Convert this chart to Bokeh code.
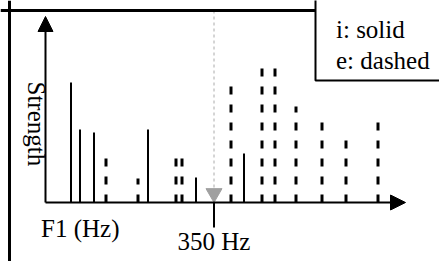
import math
from bokeh.plotting import figure
from bokeh.models import Span, BoxAnnotation, Arrow, NormalHead, Label, Range1d
from bokeh.embed import file_html
from bokeh.resources import INLINE

# ---- data ----
i_freq = [207, 216, 230, 284, 332, 380]          # solid lines (Hz)
i_strength = [120, 73, 70, 73, 25, 49]
e_freq = [242, 274, 312, 318, 367, 398, 411, 432, 458, 482, 514]   # dashed lines (Hz)
e_strength = [48, 24, 48, 48, 120, 141, 141, 96, 89, 67, 85]
marker_hz = 350
marker_label = "350 Hz"
x_label = "F1 (Hz)"
y_label = "Strength"
legend_labels = ["i: solid", "e: dashed"]

FONT = "Liberation Serif"
FS = "25px"
TXT_DY = 7   # compensation for baseline placement

W, H = 439, 261
X0, YTOP = 136.5, 202
p = figure(width=W, height=H, output_backend="svg", toolbar_location=None,
           x_range=Range1d(X0, X0 + W), y_range=Range1d(YTOP - H, YTOP),
           x_axis_type=None, y_axis_type=None, min_border=0,
           outline_line_color=None, background_fill_color="white",
           border_fill_color="white")
p.grid.visible = False

# frame borders (top and left)
p.add_layout(Span(location=X0 + 9, dimension="height", line_color="black", line_width=3))
p.add_layout(Span(location=YTOP - 10, dimension="width", line_color="black", line_width=3))

# spectral lines
p.segment(x0=i_freq, y0=0, x1=i_freq, y1=i_strength, line_color="black", line_width=2)
p.segment(x0=e_freq, y0=0, x1=e_freq, y1=e_strength, line_color="black", line_width=3,
          line_dash="8 10")

# axes arrows
ax_x0 = 181.5
p.add_layout(Arrow(end=NormalHead(size=15, fill_color="black", line_color="black", line_width=1),
                   x_start=ax_x0, y_start=0, x_end=ax_x0, y_end=186,
                   line_color="black", line_width=2))
p.add_layout(Arrow(end=NormalHead(size=15, fill_color="black", line_color="black", line_width=1),
                   x_start=ax_x0, y_start=0, x_end=541.5, y_end=0,
                   line_color="black", line_width=2))

# marker at 350 Hz
tri_size = 16
tri_y = tri_size * math.sqrt(3) / 2 * 2 / 3
p.segment(x0=[marker_hz], y0=[15], x1=[marker_hz], y1=[192], line_color="#aaaaaa",
          line_width=1, line_dash="3 3")
p.scatter(x=[marker_hz], y=[tri_y], marker="inverted_triangle", size=tri_size,
          fill_color="#a0a0a0", line_color="#a0a0a0")
p.segment(x0=[marker_hz], y0=[0], x1=[marker_hz], y1=[-25], line_color="black", line_width=2)

# legend box
p.add_layout(BoxAnnotation(left=451.5, right=700, bottom=122, top=300,
                           fill_color="white", fill_alpha=1.0,
                           line_color="black", line_width=2, line_alpha=1.0))
p.add_layout(Label(x=472, y=166 + TXT_DY, text=legend_labels[0], text_font=FONT,
                   text_font_size=FS, text_baseline="alphabetic", text_align="left",
                   text_color="black"))
p.add_layout(Label(x=472, y=135 + TXT_DY, text=legend_labels[1], text_font=FONT,
                   text_font_size=FS, text_baseline="alphabetic", text_align="left",
                   text_color="black"))

# axis labels
p.add_layout(Label(x=177, y=-33 + TXT_DY, text=x_label, text_font=FONT, text_font_size=FS,
                   text_baseline="alphabetic", text_align="left", text_color="black"))
p.add_layout(Label(x=marker_hz, y=-46 + TXT_DY, text=marker_label, text_font=FONT,
                   text_font_size=FS, text_baseline="alphabetic", text_align="center",
                   text_color="black"))
p.add_layout(Label(x=165.5 + TXT_DY, y=121, text=y_label, text_font=FONT, text_font_size=FS,
                   angle=-math.pi / 2, text_baseline="alphabetic", text_align="left",
                   text_color="black"))

open("out.html", "w").write(file_html(p, INLINE))
